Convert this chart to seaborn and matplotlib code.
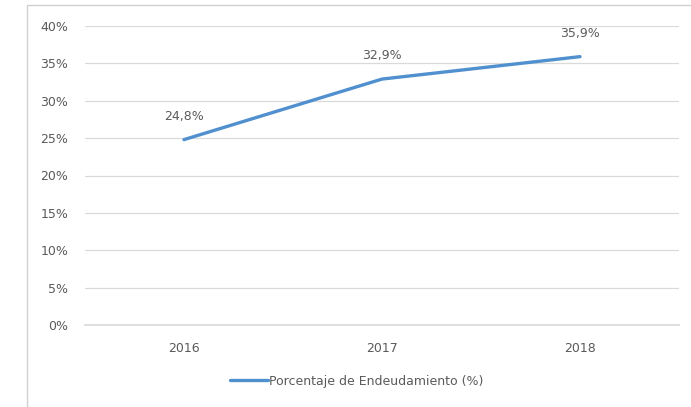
"""Porcentaje de endeudamiento 2016-2018, line chart in an Excel-like style."""

import matplotlib

matplotlib.use("Agg")
import matplotlib.pyplot as plt
import pandas as pd
import seaborn as sns
from matplotlib.lines import Line2D
from matplotlib.patches import Rectangle
from matplotlib.ticker import FuncFormatter, MultipleLocator

years = ["2016", "2017", "2018"]
endeudamiento = [24.8, 32.9, 35.9]
series_name = "Porcentaje de Endeudamiento (%)"

LINE = "#5090CF"
TEXT = "#5A5A5A"
GRID = "#DADADA"

sns.set_theme(style="white")
plt.rcParams["font.family"] = ["DejaVu Sans"]

df = pd.DataFrame({"year": years, "value": endeudamiento})

fig = plt.figure(figsize=(6.91, 4.07), dpi=100)
ax = fig.add_axes([85 / 691, 82 / 407, 594 / 691, 299 / 407])

# outer chart frame (only the left and top edges are visible in the crop)
fig.patches.append(Rectangle((27 / 691, -0.1), 1.2, (407 - 5) / 407 + 0.1,
                             transform=fig.transFigure, fill=False,
                             edgecolor="#D0D0D0", linewidth=1.0))

sns.lineplot(data=df, x="year", y="value", ax=ax, color=LINE, linewidth=2.4,
             sort=False, legend=False)

for i, v in enumerate(endeudamiento):
    ax.annotate(f"{v:.1f}%".replace(".", ","), (i, v), xytext=(0, 12),
                textcoords="offset points", ha="center", va="bottom",
                fontsize=9, color=TEXT)

ax.set_xlim(-0.5, 2.5)
ax.set_ylim(0, 40)
ax.yaxis.set_major_locator(MultipleLocator(5))
ax.yaxis.set_major_formatter(FuncFormatter(lambda v, _: f"{v:.0f}%"))
ax.grid(True, axis="y", color=GRID, linewidth=0.9)
ax.set_axisbelow(True)
for side in ["top", "right", "left"]:
    ax.spines[side].set_visible(False)
ax.spines["bottom"].set_color(GRID)
ax.tick_params(axis="both", length=0, labelsize=9, colors=TEXT)
ax.tick_params(axis="x", pad=12)
ax.tick_params(axis="y", pad=12)
ax.set_xlabel("")
ax.set_ylabel("")

handle = Line2D([], [], color=LINE, linewidth=2.4)
fig.legend([handle], [series_name], loc="center", bbox_to_anchor=(357 / 691, 26 / 407),
           frameon=False, fontsize=9, labelcolor=TEXT, handlelength=3.0,
           handletextpad=0.1)

fig.savefig("out.png", dpi=100, facecolor="white")
